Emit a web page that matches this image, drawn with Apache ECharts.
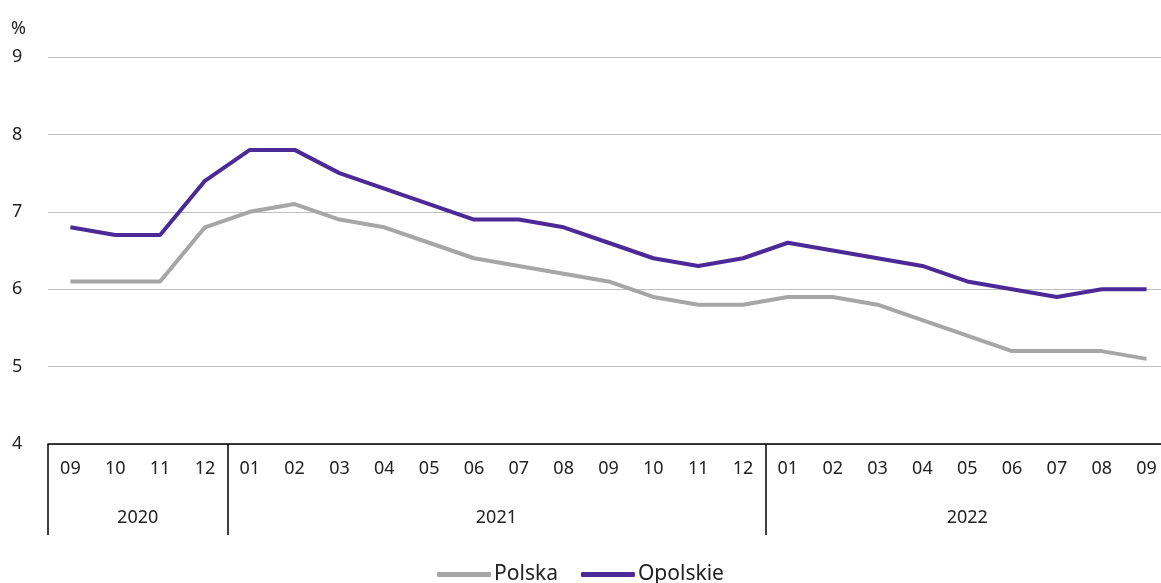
<!DOCTYPE html>
<html>
<head>
<meta charset="utf-8">
<script src="https://cdn.jsdelivr.net/npm/echarts@6/dist/echarts.min.js"></script>
<style>
  html, body { margin: 0; padding: 0; background: #fff; }
  #chart { width: 1161px; height: 583px; }
</style>
</head>
<body>
<div id="chart"></div>
<script>
// miesiące od 09.2020 do 09.2022
const months = ["09", "10", "11", "12",
  "01", "02", "03", "04", "05", "06", "07", "08", "09", "10", "11", "12",
  "01", "02", "03", "04", "05", "06", "07", "08", "09"];
const years = ["2020", "2021", "2022"];
const monthsPerYear = [4, 12, 9];

const polska = [6.1, 6.1, 6.1, 6.8, 7.0, 7.1, 6.9, 6.8, 6.6, 6.4, 6.3, 6.2, 6.1,
  5.9, 5.8, 5.8, 5.9, 5.9, 5.8, 5.6, 5.4, 5.2, 5.2, 5.2, 5.1];
const opolskie = [6.8, 6.7, 6.7, 7.4, 7.8, 7.8, 7.5, 7.3, 7.1, 6.9, 6.9, 6.8, 6.6,
  6.4, 6.3, 6.4, 6.6, 6.5, 6.4, 6.3, 6.1, 6.0, 5.9, 6.0, 6.0];

// oś lat: punkty co pół miesiąca (boundaryGap false), etykieta w środku roku
const halfCount = months.length * 2 + 1;
const yearLabels = new Array(halfCount).fill("");
const yearBounds = [];
let start = 0;
years.forEach((y, i) => {
  yearBounds.push(start * 2);
  yearLabels[start * 2 + monthsPerYear[i]] = y;
  start += monthsPerYear[i];
});

const font = "'Noto Sans', 'Open Sans', sans-serif";
const chart = echarts.init(document.getElementById("chart"));

chart.setOption({
  animation: false,
  textStyle: { fontFamily: font },
  grid: { left: 48, right: -8, top: 57, bottom: 139, outerBoundsMode: "none" },
  legend: {
    bottom: -7,
    left: "center",
    icon: "roundRect",
    itemWidth: 54,
    itemHeight: 5,
    itemGap: 23,
    textStyle: { fontSize: 21, color: "#222", padding: [0, 0, 0, -2] },
    data: ["Polska", "Opolskie"],
  },
  xAxis: [
    {
      type: "category",
      data: months,
      boundaryGap: true,
      axisLine: { lineStyle: { color: "#000", width: 1.5 } },
      axisTick: { show: false },
      axisLabel: { color: "#222", fontSize: 18, margin: 16, interval: 0 },
    },
    {
      type: "category",
      data: yearLabels,
      boundaryGap: false,
      position: "bottom",
      axisLine: { show: false },
      axisTick: {
        show: true,
        length: 91,
        interval: (i) => yearBounds.includes(i),
        lineStyle: { color: "#000", width: 1.5 },
      },
      axisLabel: { color: "#222", fontSize: 18, margin: 65, interval: 0 },
    },
  ],
  yAxis: {
    type: "value",
    min: 4,
    max: 9,
    interval: 1,
    name: "%",
    nameLocation: "end",
    nameGap: 19,
    nameTextStyle: { color: "#222", fontSize: 18, align: "left", padding: [0, 0, 0, -37] },
    axisLine: { show: false },
    axisTick: { show: false },
    axisLabel: { color: "#222", fontSize: 18, margin: 36, align: "left" },
    splitLine: { lineStyle: { color: "#BFBFBF", width: 1.2 } },
  },
  series: [
    {
      name: "Polska",
      type: "line",
      data: polska,
      symbol: "none",
      lineStyle: { color: "#A6A6A6", width: 4 },
      itemStyle: { color: "#A6A6A6" },
    },
    {
      name: "Opolskie",
      type: "line",
      data: opolskie,
      symbol: "none",
      lineStyle: { color: "#4B2A98", width: 4 },
      itemStyle: { color: "#4B2A98" },
    },
  ],
});
</script>
</body>
</html>
